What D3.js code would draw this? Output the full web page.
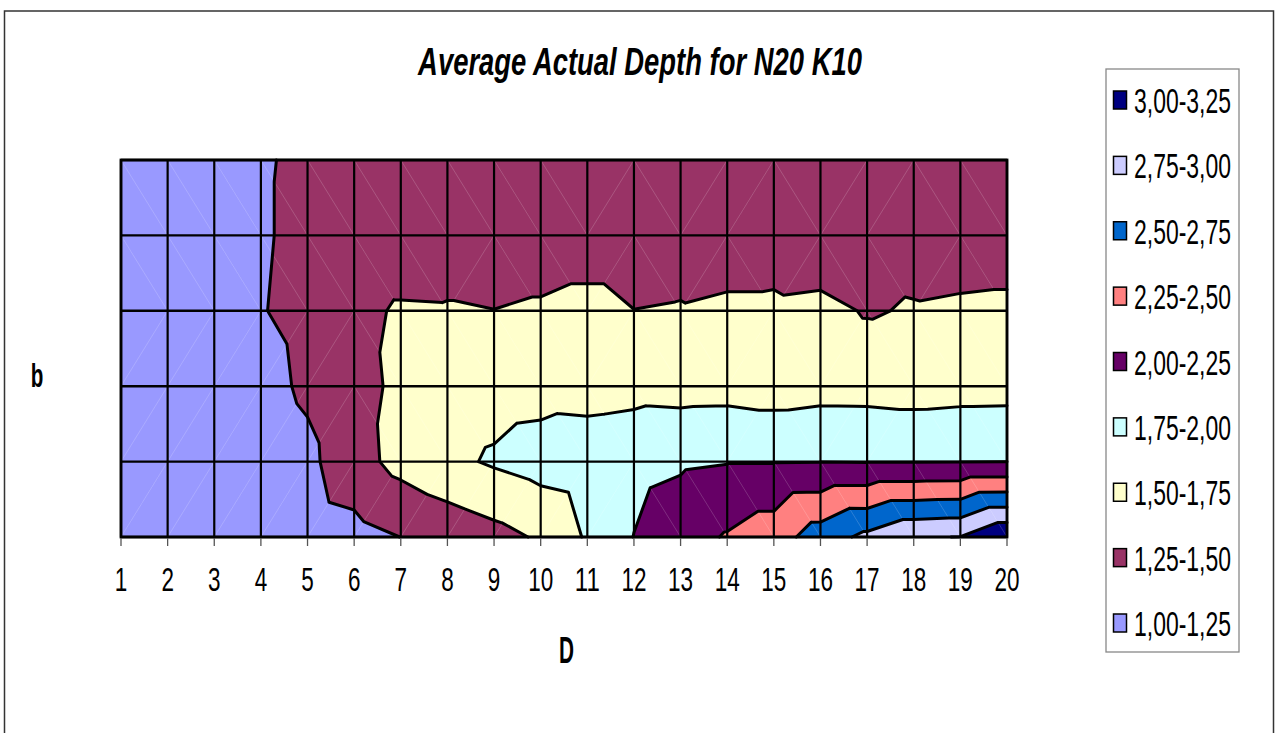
<!DOCTYPE html>
<html>
<head>
<meta charset="utf-8">
<script src="https://cdn.jsdelivr.net/npm/d3@7"></script>
<style>
  html, body { margin: 0; padding: 0; background: #fff; }
  svg { display: block; }
  text { font-family: "Liberation Sans", Arial, sans-serif; fill: #000; }
</style>
</head>
<body>
<svg id="chart" width="1276" height="733"></svg>
<script>
// ---------------- data ----------------
const title = "Average Actual Depth for N20 K10";
const dValues = d3.range(1, 21);                       // D categories 1..20
const bRows = ["b1", "b2", "b3", "b4", "b5", "b6"];    // series (top to bottom)

// Average actual depth, one array per b row (D = 1..20)
const rowB1 = [1.05,1.08,1.14,1.23,1.29,1.32,1.34,1.35,1.35,1.36,1.37,1.36,1.37,1.38,1.38,1.37,1.38,1.39,1.40,1.40];
const rowB2 = [1.06,1.09,1.15,1.23,1.30,1.35,1.344,1.38,1.38,1.38,1.38,1.38,1.40,1.36,1.38,1.32,1.42,1.40,1.38,1.38];
const rowB3 = [1.07,1.10,1.16,1.24,1.31,1.44,1.526,1.519,1.5025,1.527,1.567,1.5025,1.516,1.547,1.547,1.567,1.482,1.518,1.536,1.547];
const rowB4 = [1.05,1.08,1.12,1.174,1.289,1.42,1.549,1.62,1.65,1.665,1.65,1.674,1.662,1.666,1.637,1.664,1.661,1.642,1.659,1.663];
const rowB5 = [1.03,1.05,1.08,1.12,1.194,1.402,1.58,1.69,1.78,1.854,1.90,1.92,1.967,1.99,1.99,1.995,1.99,1.99,1.995,1.998];
const rowB6 = [1.02,1.03,1.05,1.08,1.12,1.165,1.252,1.334,1.42,1.53,1.78,2.005,2.15,2.27,2.384,2.625,2.81,2.98,3.005,3.24];

const bandLows = [1.00,1.25,1.50,1.75,2.00,2.25,2.50,2.75,3.00];
const bandLabels = ["1,00-1,25","1,25-1,50","1,50-1,75","1,75-2,00","2,00-2,25","2,25-2,50","2,50-2,75","2,75-3,00","3,00-3,25"];
const bandColors = ["#9999FF","#993366","#FFFFCC","#CCFFFF","#660066","#FF8080","#0066CC","#CCCCFF","#000080"];

const grid = [rowB1,rowB2,rowB3,rowB4,rowB5,rowB6];

// ---------------- layout ----------------
const svg = d3.select("#chart");
const plot = {left:121, right:1007, top:160, bottom:537};
const x = d3.scaleLinear().domain([1,20]).range([plot.left, plot.right]);
const y = d3.scalePoint().domain(bRows).range([plot.top, plot.bottom]);

// outer chart border
svg.append("rect").attr("x",4.5).attr("y",11).attr("width",1269).attr("height",740)
  .attr("fill","#fff").attr("stroke","#333").attr("stroke-width",1.5);

// narrow text helper: natural font, horizontally scaled to a target width
function narrowText(parent, tx, ty, str, size, width, anchor, extra){
  const t = parent.append("text").attr("x",0).attr("y",0)
    .attr("text-anchor",anchor||"start").attr("font-size",size).text(str);
  if (extra) Object.entries(extra).forEach(([k,v])=>t.attr(k,v));
  const w = t.node().getComputedTextLength() || width;
  t.attr("transform",`translate(${tx},${ty}) scale(${width/w},1)`);
  return t;
}

// title
narrowText(svg, 640, 75, title, 38, 444, "middle", {"font-weight":"bold","font-style":"italic"});

// ---------------- contour (triangulated, linear) ----------------
const vert = (i,j) => ({px: x(dValues[i]), py: y(bRows[j]), z: grid[j][i]});
const triangles = [], diagonals = [];
for (let j=0;j<bRows.length-1;j++){
  for (let i=0;i<dValues.length-1;i++){
    const p00=vert(i,j), p10=vert(i+1,j), p01=vert(i,j+1), p11=vert(i+1,j+1);
    // split each cell along the diagonal with the larger value difference
    if (Math.abs(p00.z-p11.z) >= Math.abs(p01.z-p10.z)){
      triangles.push([p00,p10,p11]); triangles.push([p00,p11,p01]); diagonals.push([p00,p11]);
    } else {
      triangles.push([p00,p10,p01]); triangles.push([p10,p11,p01]); diagonals.push([p10,p01]);
    }
  }
}
function lerp(a,b,t){ const f=(t-a.z)/(b.z-a.z); return [a.px+f*(b.px-a.px), a.py+f*(b.py-a.py)]; }
function clipAbove(tri,t){
  const out=[];
  for (let k=0;k<tri.length;k++){
    const a=tri[k], b=tri[(k+1)%tri.length];
    const ia=a.z>=t, ib=b.z>=t;
    if (ia) out.push([a.px,a.py]);
    if (ia!==ib) out.push(lerp(a,b,t));
  }
  return out;
}
const gFill = svg.append("g");
bandLows.forEach((t,k)=>{
  const p = d3.path();
  triangles.forEach(tri=>{
    const poly = clipAbove(tri,t);
    if (poly.length>=3){
      p.moveTo(poly[0][0],poly[0][1]);
      for (let m=1;m<poly.length;m++) p.lineTo(poly[m][0],poly[m][1]);
      p.closePath();
    }
  });
  gFill.append("path").attr("d",p.toString()).attr("fill",bandColors[k])
    .attr("stroke",bandColors[k]).attr("stroke-width",0.8).attr("stroke-linejoin","round");
});

// faint triangulation seams
svg.append("g").selectAll("line").data(diagonals).join("line")
  .attr("x1",d=>d[0].px).attr("y1",d=>d[0].py).attr("x2",d=>d[1].px).attr("y2",d=>d[1].py)
  .attr("stroke","#fff").attr("stroke-opacity",0.22).attr("stroke-width",0.8);

// grid lines
const gGrid = svg.append("g");
gGrid.selectAll("line.v").data(dValues).join("line")
  .attr("x1",d=>x(d)).attr("x2",d=>x(d)).attr("y1",plot.top).attr("y2",plot.bottom)
  .attr("stroke","#000").attr("stroke-width",2.2);
gGrid.selectAll("line.h").data(bRows).join("line")
  .attr("x1",plot.left).attr("x2",plot.right).attr("y1",d=>y(d)).attr("y2",d=>y(d))
  .attr("stroke","#000").attr("stroke-width",2.4);

// contour lines
const gLines = svg.append("g");
bandLows.slice(1).forEach(t=>{
  const p = d3.path();
  triangles.forEach(tri=>{
    const pts=[];
    for (let k=0;k<3;k++){
      const a=tri[k], b=tri[(k+1)%3];
      if ((a.z>=t)!==(b.z>=t)) pts.push(lerp(a,b,t));
    }
    if (pts.length===2){ p.moveTo(pts[0][0],pts[0][1]); p.lineTo(pts[1][0],pts[1][1]); }
  });
  gLines.append("path").attr("d",p.toString()).attr("fill","none")
    .attr("stroke","#000").attr("stroke-width",3).attr("stroke-linecap","round");
});

// plot border
svg.append("rect").attr("x",plot.left).attr("y",plot.top)
  .attr("width",plot.right-plot.left).attr("height",plot.bottom-plot.top)
  .attr("fill","none").attr("stroke","#000").attr("stroke-width",2.8);

// x axis ticks and labels
const gAx = svg.append("g");
gAx.selectAll("line").data(dValues).join("line")
  .attr("x1",d=>x(d)).attr("x2",d=>x(d)).attr("y1",plot.bottom+1).attr("y2",plot.bottom+9)
  .attr("stroke","#555").attr("stroke-width",1.3);
dValues.forEach(d=>narrowText(gAx, x(d), 591, String(d), 33.5, String(d).length*12.5, "middle"));

// axis titles
narrowText(svg, 566.5, 663, "D", 37, 15, "middle", {"font-weight":"bold"});
narrowText(svg, 37, 387, "b", 34, 12.6, "middle", {"font-weight":"bold"});

// legend
const lg = svg.append("g");
lg.append("rect").attr("x",1106).attr("y",69).attr("width",133).attr("height",583)
  .attr("fill","#fff").attr("stroke","#888").attr("stroke-width",1.3);
const order = d3.range(bandLows.length).reverse();
const ly = d3.scalePoint().domain(order).range([100,623]);
lg.selectAll("rect.m").data(order).join("rect").attr("class","m")
  .attr("x",1113.5).attr("y",k=>ly(k)-9).attr("width",13).attr("height",18)
  .attr("fill",k=>bandColors[k]).attr("stroke","#000").attr("stroke-width",1.5);
order.forEach(k=>narrowText(lg, 1134, ly(k)+13, bandLabels[k], 36, 97, "start"));
</script>
</body>
</html>
